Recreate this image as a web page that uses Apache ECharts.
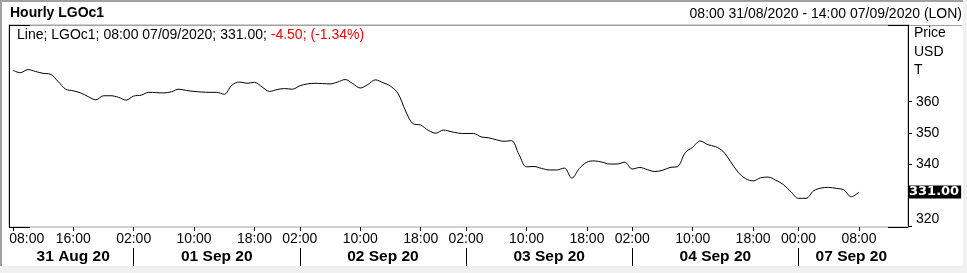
<!DOCTYPE html>
<html>
<head>
<meta charset="utf-8">
<script src="https://cdn.jsdelivr.net/npm/echarts@6/dist/echarts.min.js"></script>
<style>
html,body{margin:0;padding:0;background:#fff;}
#c{width:967px;height:273px;}
</style>
</head>
<body>
<div id="c"></div>
<script>
// Trading sessions: [day label, first hour, last hour]
const sessions = [
  ['31 Aug 20', 8, 23],
  ['01 Sep 20', 2, 23],
  ['02 Sep 20', 2, 23],
  ['03 Sep 20', 2, 23],
  ['04 Sep 20', 2, 23],
  ['07 Sep 20', 0, 14]
];

// Hour tick labels shown on the time axis
const hourTicks = [
  '31 Aug 20|08:00', '31 Aug 20|16:00',
  '01 Sep 20|02:00', '01 Sep 20|10:00', '01 Sep 20|18:00',
  '02 Sep 20|02:00', '02 Sep 20|10:00', '02 Sep 20|18:00',
  '03 Sep 20|02:00', '03 Sep 20|10:00', '03 Sep 20|18:00',
  '04 Sep 20|02:00', '04 Sep 20|10:00', '04 Sep 20|18:00',
  '07 Sep 20|00:00', '07 Sep 20|08:00'
];

// Where each day label sits (middle of its session)
const dayLabelAt = [
  '31 Aug 20|16:00', '01 Sep 20|13:00', '02 Sep 20|13:00',
  '03 Sep 20|13:00', '04 Sep 20|13:00', '07 Sep 20|07:00'
];

// Hourly LGOc1 price, 08:00 31/08 .. 08:00 07/09
const prices = [
  370.1, 369.3, 370.3, 369.7, 369.1, 368.8, 366.5, 364.0, 363.5, 362.8, 361.6, 360.6, 361.9, 361.9, 361.4, 360.5,
  361.8, 362.1, 363.0, 362.9, 362.8, 363.2, 364.0, 363.6, 363.3, 363.1, 363.0, 363.0, 362.4, 365.3, 366.3, 365.9, 366.2, 364.7, 363.3, 363.9, 364.2, 364.0,
  365.1, 365.7, 365.9, 365.8, 365.7, 366.3, 367.1, 365.8, 364.4, 365.5, 367.0, 366.1, 365.0, 362.6, 357.0, 352.9, 352.5, 350.8, 349.9, 350.9, 350.4, 349.9,
  349.8, 349.8, 348.7, 348.4, 347.8, 347.3, 347.5, 343.1, 339.1, 339.2, 338.6, 338.1, 338.1, 338.7, 335.5, 338.6, 340.6, 341.0, 340.6, 340.0, 340.0, 340.6,
  338.4, 338.9, 338.2, 337.6, 338.0, 338.9, 339.2, 343.6, 345.4, 347.4, 346.2, 345.6, 344.1, 340.8, 337.4, 335.3, 334.6, 335.6, 335.8, 334.8, 333.4, 331.1,
  329.0, 329.0, 331.4, 332.3, 332.5, 332.2, 331.7, 329.5, 331.0
];

const lastPrice = 331.00;
const yTickValues = [320, 340, 350, 360];

const categories = [];
const dayStart = new Set();
sessions.forEach(([d, h0, h1], si) => {
  for (let h = h0; h <= h1; h++) {
    if (h === h0 && si > 0) dayStart.add(categories.length);
    categories.push(d + '|' + String(h).padStart(2, '0') + ':00');
  }
});
const hourSet = new Set(hourTicks);
const daySet = new Set(dayLabelAt);

const FONT = '"Liberation Sans", Arial, sans-serif';

const chart = echarts.init(document.getElementById('c'), null, {renderer: 'canvas'});
chart.setOption({
  animation: false,
  backgroundColor: '#fff',
  title: [
    {text: 'Hourly LGOc1', left: 10, top: 5, padding: 0,
     textStyle: {fontFamily: FONT, fontSize: 14, fontWeight: 'bold', color: '#000', lineHeight: 16}},
    {text: '08:00 31/08/2020 - 14:00 07/09/2020 (LON)', right: 5, top: 6, padding: 0,
     textStyle: {fontFamily: FONT, fontSize: 14, fontWeight: 'normal', color: '#000', lineHeight: 16}},
    {text: '{a|Line; LGOc1; 08:00 07/09/2020; 331.00; }{r|-4.50; (-1.34%)}', left: 17, top: 28, padding: 0,
     textStyle: {fontFamily: FONT, fontSize: 14, fontWeight: 'normal', lineHeight: 15,
       rich: {a: {fontFamily: FONT, fontSize: 14, color: '#000'}, r: {fontFamily: FONT, fontSize: 14, color: '#ff0000'}}}},
    {text: 'Price\nUSD\nT', left: 914, top: 24, padding: 0,
     textStyle: {fontFamily: FONT, fontSize: 14, fontWeight: 'normal', color: '#000', lineHeight: 18.5}}
  ],
  graphic: [
    {type: 'rect', shape: {x: 0, y: 266, width: 967, height: 7}, style: {fill: '#f0f0f0'}, silent: true},
    {type: 'rect', shape: {x: 963, y: 0, width: 4, height: 273}, style: {fill: '#f0f0f0'}, silent: true},
    {type: 'line', shape: {x1: 0, y1: 1, x2: 963, y2: 1}, style: {stroke: '#a0a0a0', lineWidth: 2}, silent: true},
    {type: 'line', shape: {x1: 1, y1: 0, x2: 1, y2: 266}, style: {stroke: '#a0a0a0', lineWidth: 2}, silent: true},
    {type: 'line', shape: {x1: 9, y1: 25.5, x2: 962, y2: 25.5}, style: {stroke: '#a0a0a0', lineWidth: 1}, silent: true},
    {type: 'line', shape: {x1: 9, y1: 25.5, x2: 30, y2: 25.5}, style: {stroke: '#000', lineWidth: 1}, silent: true, z: 10},
    {type: 'line', shape: {x1: 888, y1: 25.5, x2: 908, y2: 25.5}, style: {stroke: '#000', lineWidth: 1}, silent: true, z: 10},
    {type: 'line', shape: {x1: 9, y1: 227.5, x2: 30, y2: 227.5}, style: {stroke: '#000', lineWidth: 1}, silent: true, z: 10},
    {type: 'line', shape: {x1: 888, y1: 227.5, x2: 908, y2: 227.5}, style: {stroke: '#000', lineWidth: 1}, silent: true, z: 10}
  ],
  grid: {left: 9, top: 25, width: 899, height: 202, show: true, borderColor: '#a0a0a0', borderWidth: 1,
    backgroundColor: 'transparent', containLabel: false, outerBoundsMode: 'none'},
  xAxis: [
    {
      type: 'category', data: categories, boundaryGap: true, position: 'bottom',
      axisLine: {show: false},
      axisTick: {show: true, alignWithLabel: true, length: 4, interval: (i, v) => hourSet.has(v), lineStyle: {color: '#000'}},
      axisLabel: {show: true, interval: (i, v) => hourSet.has(v),
        formatter: (v, i) => i === 0 ? '{first|' + v.split('|')[1] + '}' : v.split('|')[1],
        fontFamily: FONT, fontSize: 14, color: '#000', margin: 5,
        rich: {first: {fontFamily: FONT, fontSize: 14, color: '#000', padding: [0, 0, 0, 28]}}},
      splitLine: {show: false}
    },
    {
      type: 'category', data: categories, boundaryGap: true, position: 'bottom', offset: 21,
      axisLine: {show: false},
      axisTick: {show: true, alignWithLabel: true, length: 18, interval: (i) => dayStart.has(i), lineStyle: {color: '#000'}},
      axisLabel: {show: true, interval: (i, v) => daySet.has(v), formatter: v => v.split('|')[0],
        fontFamily: FONT, fontSize: 15.5, fontWeight: 'bold', color: '#000', margin: 1},
      splitLine: {show: false}
    }
  ],
  yAxis: [
    {
      type: 'value', position: 'right', min: 319.8, max: 384.6, scale: true,
      axisLine: {show: true, lineStyle: {color: '#000'}},
      axisTick: {show: true, length: 4, customValues: yTickValues, lineStyle: {color: '#000'}},
      axisLabel: {show: true, customValues: yTickValues, margin: 8, fontFamily: FONT, fontSize: 14, color: '#000',
        formatter: v => v === 320 ? '{low|320}' : String(v),
        rich: {low: {fontFamily: FONT, fontSize: 14, color: '#000', padding: [0, 0, 14, 0]}}},
      splitLine: {show: false}
    },
    {
      type: 'value', position: 'left', min: 319.8, max: 384.6, scale: true,
      axisLine: {show: true, lineStyle: {color: '#000'}},
      axisTick: {show: false}, axisLabel: {show: false}, splitLine: {show: false}
    }
  ],
  series: [{
    type: 'line', xAxisIndex: 0, yAxisIndex: 0, data: prices,
    symbol: 'none', smooth: 0.35,
    lineStyle: {color: '#000', width: 1},
    markLine: {
      silent: true, symbol: 'none', animation: false,
      lineStyle: {color: 'rgba(0,0,0,0)', width: 0},
      data: [{yAxis: lastPrice}],
      label: {show: true, position: 'end', distance: 0, formatter: () => lastPrice.toFixed(2),
        backgroundColor: '#000', color: '#fff', fontFamily: '"DejaVu Sans", sans-serif', fontWeight: 'bold', fontSize: 13,
        padding: [0, 2, 0, 1], lineHeight: 13}
    }
  }]
});
</script>
</body>
</html>
